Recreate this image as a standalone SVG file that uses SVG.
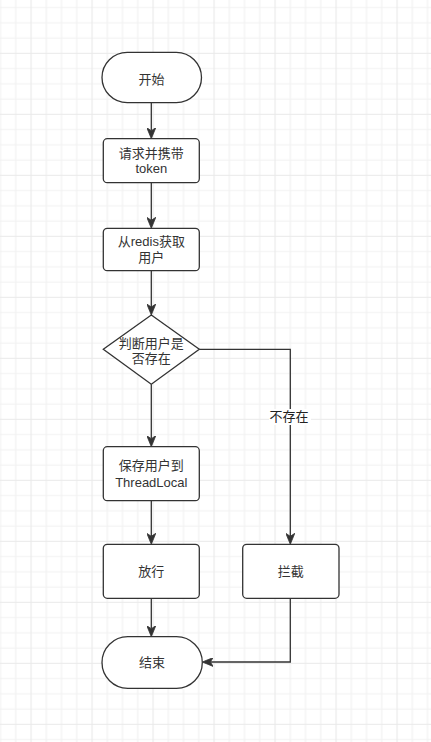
<svg xmlns="http://www.w3.org/2000/svg" width="431" height="742" viewBox="0 0 431 742">
  <style>
    .node { fill: #ffffff; stroke: #333333; stroke-width: 1.3; }
    .lbl { font-family: "Liberation Sans", "Noto Sans CJK SC", sans-serif; font-size: 13px; fill: #333333; text-anchor: middle; }
    .edge { fill: none; stroke: #333333; stroke-width: 1.3; }
    .minor { stroke: #f1f1f1; stroke-width: 1.2; }
    .major { stroke: #e9e9e9; stroke-width: 1.2; }
  </style>
  <defs>
    <pattern id="grid" patternUnits="userSpaceOnUse" x="-30.5" y="-8.2" width="61" height="61">
      <line class="minor" x1="15.75" y1="0" x2="15.75" y2="61"/>
      <line class="minor" x1="31" y1="0" x2="31" y2="61"/>
      <line class="minor" x1="46.25" y1="0" x2="46.25" y2="61"/>
      <line class="minor" x1="0" y1="15.75" x2="61" y2="15.75"/>
      <line class="minor" x1="0" y1="31" x2="61" y2="31"/>
      <line class="minor" x1="0" y1="46.25" x2="61" y2="46.25"/>
      <line class="major" x1="0.5" y1="0" x2="0.5" y2="61"/>
      <line class="major" x1="0" y1="0.5" x2="61" y2="0.5"/>
    </pattern>
    <marker id="arrow" viewBox="0 0 11 9" markerWidth="11" markerHeight="9" refX="3" refY="4.5" orient="auto" markerUnits="userSpaceOnUse">
      <path d="M0,0 L11,4.5 L0,9 L3,4.5 Z" fill="#333333" stroke="#333333" stroke-width="0.8" stroke-linejoin="miter"/>
    </marker>
  </defs>
  <rect x="0" y="0" width="431" height="742" fill="#ffffff"/>
  <rect x="0" y="0" width="431" height="742" fill="url(#grid)"/>

  <g id="connectors">
    <path class="edge" d="M151.3,102.7 L151.3,130.7" marker-end="url(#arrow)"/>
    <path class="edge" d="M151.3,182.7 L151.3,220.3" marker-end="url(#arrow)"/>
    <path class="edge" d="M151.3,270.7 L151.3,307" marker-end="url(#arrow)"/>
    <path class="edge" d="M151.3,384.3 L151.3,438.7" marker-end="url(#arrow)"/>
    <path class="edge" d="M151.3,500.7 L151.3,536.3" marker-end="url(#arrow)"/>
    <path class="edge" d="M151.3,598.3 L151.3,628.7" marker-end="url(#arrow)"/>
    <path class="edge" d="M199.3,349.3 L290.3,349.3 L290.3,536.3" marker-end="url(#arrow)"/>
    <path class="edge" d="M290.3,598.3 L290.3,662 L210.3,662" marker-end="url(#arrow)"/>
    <g id="edge-label">
      <rect x="269" y="409" width="42" height="16" fill="#ffffff"/>
      <text class="lbl" x="289" y="421" style="fill:#222222">不存在</text>
    </g>
  </g>

  <g id="start">
    <rect class="node" x="102" y="52.3" width="99.5" height="50.4" rx="25.2" ry="25.2"/>
    <text class="lbl" x="151.5" y="83.8">开始</text>
  </g>
  <g id="request">
    <rect class="node" x="103.3" y="138.7" width="96" height="44" rx="4" ry="4"/>
    <text class="lbl" x="151.3" y="157.5">请求并携带</text>
    <text class="lbl" x="151.3" y="172.5">token</text>
  </g>
  <g id="redis">
    <rect class="node" x="103.3" y="228.3" width="96" height="42.4" rx="4" ry="4"/>
    <text class="lbl" x="151.3" y="246">从redis获取</text>
    <text class="lbl" x="151.3" y="262">用户</text>
  </g>
  <g id="decision">
    <polygon class="node" points="151.3,315 199.3,349.3 151.3,384.3 103.3,349.3"/>
    <text class="lbl" x="151.3" y="347.5">判断用户是</text>
    <text class="lbl" x="151.3" y="362.5">否存在</text>
  </g>
  <g id="save">
    <rect class="node" x="103.3" y="446.7" width="96" height="54" rx="4" ry="4"/>
    <text class="lbl" x="151.3" y="470">保存用户到</text>
    <text class="lbl" x="151.3" y="487">ThreadLocal</text>
  </g>
  <g id="pass">
    <rect class="node" x="103.3" y="544.3" width="96" height="54" rx="4" ry="4"/>
    <text class="lbl" x="151.3" y="576">放行</text>
  </g>
  <g id="intercept">
    <rect class="node" x="242.7" y="544.3" width="96.3" height="54" rx="4" ry="4"/>
    <text class="lbl" x="290.8" y="576">拦截</text>
  </g>
  <g id="end">
    <rect class="node" x="102" y="636.7" width="100.3" height="51.6" rx="25.8" ry="25.8"/>
    <text class="lbl" x="152.1" y="666.7">结束</text>
  </g>
</svg>
